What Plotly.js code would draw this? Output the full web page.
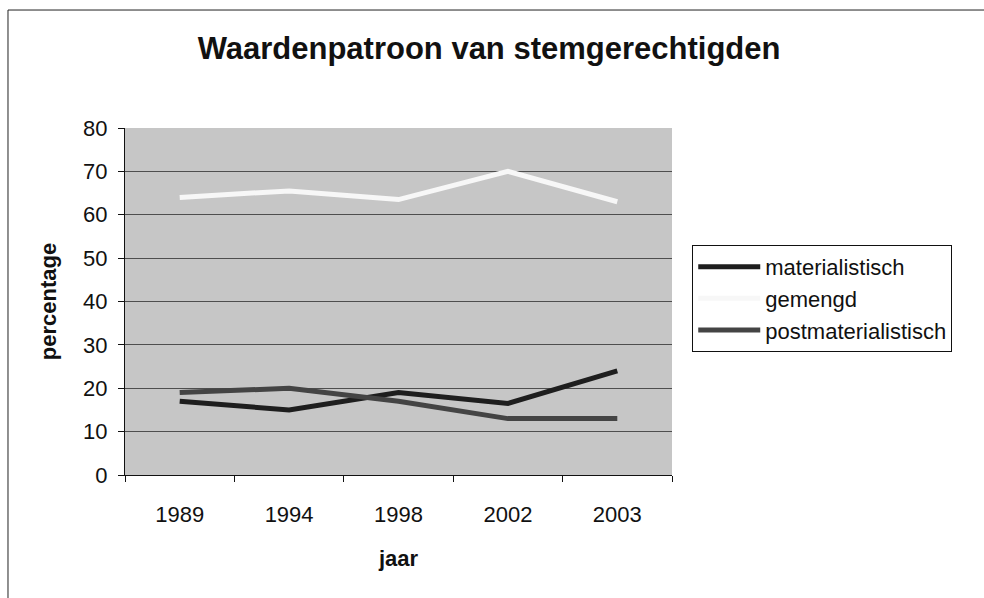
<!DOCTYPE html>
<html>
<head>
<meta charset="utf-8">
<script src="https://cdn.plot.ly/plotly-3.0.1.min.js"></script>
<style>html,body{margin:0;padding:0;background:#fff;}#chart{width:984px;height:598px;}</style>
</head>
<body>
<div id="chart"></div>
<script>
const years = ["1989", "1994", "1998", "2002", "2003"];
const materialistisch = [17, 15, 19, 16.5, 24];
const gemengd = [64, 65.5, 63.5, 70, 63];
const postmaterialistisch = [19, 20, 17, 13, 13];
const seriesNames = ["materialistisch", "gemengd", "postmaterialistisch"];

const font = "Liberation Sans, Arial, sans-serif";

const traces = [
  {x: years, y: materialistisch, name: seriesNames[0], mode: "lines", legendgroup: "a",
   line: {color: "#1e1e1e", width: 5}},
  {x: years, y: gemengd, name: seriesNames[1], mode: "lines", legendgroup: "b",
   line: {color: "#f7f7f7", width: 5}},
  {x: years, y: postmaterialistisch, name: seriesNames[2], mode: "lines", legendgroup: "c",
   line: {color: "#444444", width: 5}}
];

const layout = {
  width: 984, height: 598,
  margin: {l: 125, r: 312, t: 128, b: 123},
  paper_bgcolor: "#ffffff",
  plot_bgcolor: "#c6c6c6",
  font: {family: font, color: "#111", size: 22},
  title: {text: "Waardenpatroon van stemgerechtigden", font: {family: font, size: 31, color: "#111", weight: "bold"},
          x: 0.497, xref: "container", xanchor: "center", y: 0.92, yref: "container", yanchor: "middle"},
  xaxis: {
    type: "category", range: [-0.5, 4.5], tickson: "boundaries", ticks: "outside", ticklen: 6,
    tickcolor: "#111", showline: true, linecolor: "#111", linewidth: 1, showgrid: false,
    tickfont: {size: 22}, ticklabelstandoff: 20, fixedrange: true,
    title: {text: "jaar", font: {size: 22, weight: "bold"}, standoff: 24}
  },
  yaxis: {
    range: [0, 80], dtick: 10, ticks: "outside", ticklen: 6, tickcolor: "#111",
    showline: true, linecolor: "#111", linewidth: 1, showgrid: true, gridcolor: "#4e4e4e", gridwidth: 1,
    zeroline: false, tickfont: {size: 22}, ticklabelstandoff: 6, fixedrange: true,
    title: {text: "percentage", font: {size: 22, weight: "bold"}, standoff: 20}
  },
  legend: {
    x: 1.037, xanchor: "left", y: 0.663, yanchor: "top",
    bgcolor: "#ffffff", bordercolor: "#111", borderwidth: 1,
    font: {size: 22, color: "#111"}, tracegroupgap: 9, traceorder: "normal", itemwidth: 62
  },
  shapes: [
    {type: "rect", xref: "paper", yref: "paper", x0: -0.2139, x1: 1.581, y0: -0.36, y1: 1.340,
     line: {color: "#222", width: 1}, fillcolor: "rgba(0,0,0,0)", layer: "below"}
  ],
  showlegend: true
};

Plotly.newPlot("chart", traces, layout, {displayModeBar: false, staticPlot: true});
</script>
</body>
</html>
